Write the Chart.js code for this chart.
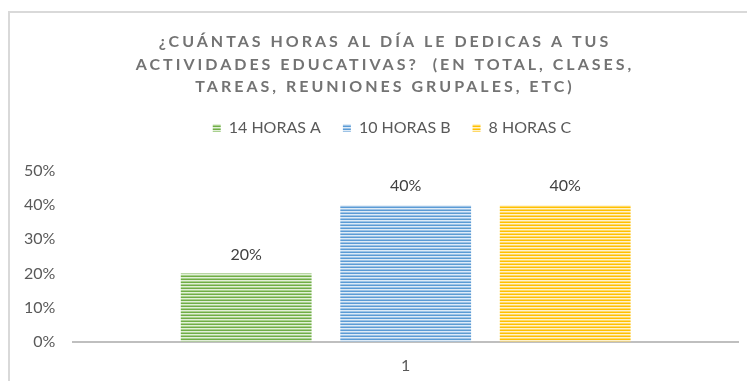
<!DOCTYPE html>
<html>
<head>
<meta charset="utf-8">
<script src="https://cdn.jsdelivr.net/npm/chart.js@4"></script>
<style>
  html, body { margin: 0; padding: 0; background: #fff; }
  #wrap { position: relative; width: 747px; height: 381px; }
</style>
</head>
<body>
<div id="wrap"><canvas id="chart1"></canvas></div>
<script>
// chart data
const categories = ['1'];
const seriesNames = ['14 HORAS A', '10 HORAS B', '8 HORAS C'];
const seriesValues = [0.2, 0.4, 0.4];
const tickValues = [0, 0.1, 0.2, 0.3, 0.4, 0.5];
const titleLines = [
    '¿CUÁNTAS HORAS AL DÍA LE DEDICAS A TUS',
    'ACTIVIDADES EDUCATIVAS?  (EN TOTAL, CLASES,',
    'TAREAS, REUNIONES GRUPALES, ETC)'
];

// striped fill for each series: dark / light / mid rows
const stripeColors = [
    ['#70ad47', '#e2efd9', '#a9d18e'],
    ['#5b9bd5', '#deebf7', '#9dc3e6'],
    ['#ffc000', '#fff2cc', '#ffd966']
];

function makeStripes(cols) {
    const c = document.createElement('canvas');
    c.width = 4;
    c.height = 3;
    const g = c.getContext('2d');
    cols.forEach(function (col, i) {
        g.fillStyle = col;
        g.fillRect(0, i, 4, 1);
    });
    return g.createPattern(c, 'repeat');
}

function pct(v) {
    return Math.round(v * 100) + '%';
}

// frame, multi-line title and legend placement
const frameTitle = {
    id: 'frameTitle',
    beforeInit: function (chart) {
        // leave a gap under the legend
        const fit = chart.legend.fit;
        chart.legend.fit = function () {
            fit.bind(chart.legend)();
            this.height += 25;
        };
    },
    afterLayout: function (chart) {
        // nudge the legend row a little to the right
        chart.legend.left += 20;
        chart.legend.right += 20;
    },
    beforeDraw: function (chart) {
        const ctx = chart.ctx;
        ctx.save();
        ctx.strokeStyle = '#d9d9d9';
        ctx.lineWidth = 2;
        ctx.strokeRect(9, 12, 800, 420);
        ctx.restore();
    },
    afterDraw: function (chart) {
        const ctx = chart.ctx;
        ctx.save();
        ctx.font = 'bold 16px Lato';
        ctx.letterSpacing = '3px';
        ctx.fillStyle = '#737373';
        ctx.textAlign = 'center';
        ctx.textBaseline = 'middle';
        titleLines.forEach(function (line, i) {
            ctx.fillText(line, 385, 42 + i * 22.5);
        });
        ctx.restore();
    }
};

// value labels above each bar
const barLabels = {
    id: 'barLabels',
    afterDatasetsDraw: function (chart) {
        const ctx = chart.ctx;
        ctx.save();
        ctx.font = '16px Lato';
        ctx.fillStyle = '#404040';
        ctx.textAlign = 'center';
        ctx.textBaseline = 'bottom';
        chart.data.datasets.forEach(function (ds, i) {
            chart.getDatasetMeta(i).data.forEach(function (bar, j) {
                ctx.fillText(pct(ds.data[j]), bar.x, bar.y - 11);
            });
        });
        ctx.restore();
    }
};

const ctx = document.getElementById('chart1').getContext('2d');

new Chart(ctx, {
    type: 'bar',
    data: {
        labels: categories,
        datasets: seriesNames.map(function (name, i) {
            return {
                label: name,
                data: [seriesValues[i]],
                backgroundColor: makeStripes(stripeColors[i]),
                borderWidth: 0,
                categoryPercentage: 0.72,
                barPercentage: 0.82
            };
        })
    },
    options: {
        responsive: true,
        maintainAspectRatio: false,
        animation: false,
        layout: {
            padding: { top: 98, left: 6, right: 9, bottom: 0 }
        },
        plugins: {
            title: { display: false },
            tooltip: { enabled: false },
            legend: {
                position: 'top',
                labels: {
                    boxWidth: 8,
                    boxHeight: 8,
                    padding: 22,
                    color: '#595959',
                    font: { family: 'Lato', size: 16 }
                }
            }
        },
        scales: {
            x: {
                grid: { display: false },
                border: { color: '#bfbfbf', width: 2 },
                ticks: {
                    color: '#595959',
                    font: { family: 'Lato', size: 16 },
                    padding: 6
                }
            },
            y: {
                min: 0,
                max: 0.5,
                grid: { display: false, drawTicks: false },
                border: { display: false },
                afterBuildTicks: function (axis) {
                    axis.ticks = tickValues.map(function (v) { return { value: v }; });
                },
                ticks: {
                    color: '#595959',
                    font: { family: 'Lato', size: 16 },
                    padding: 18,
                    callback: function (v) { return pct(v); }
                }
            }
        }
    },
    plugins: [frameTitle, barLabels]
});
</script>
</body>
</html>
